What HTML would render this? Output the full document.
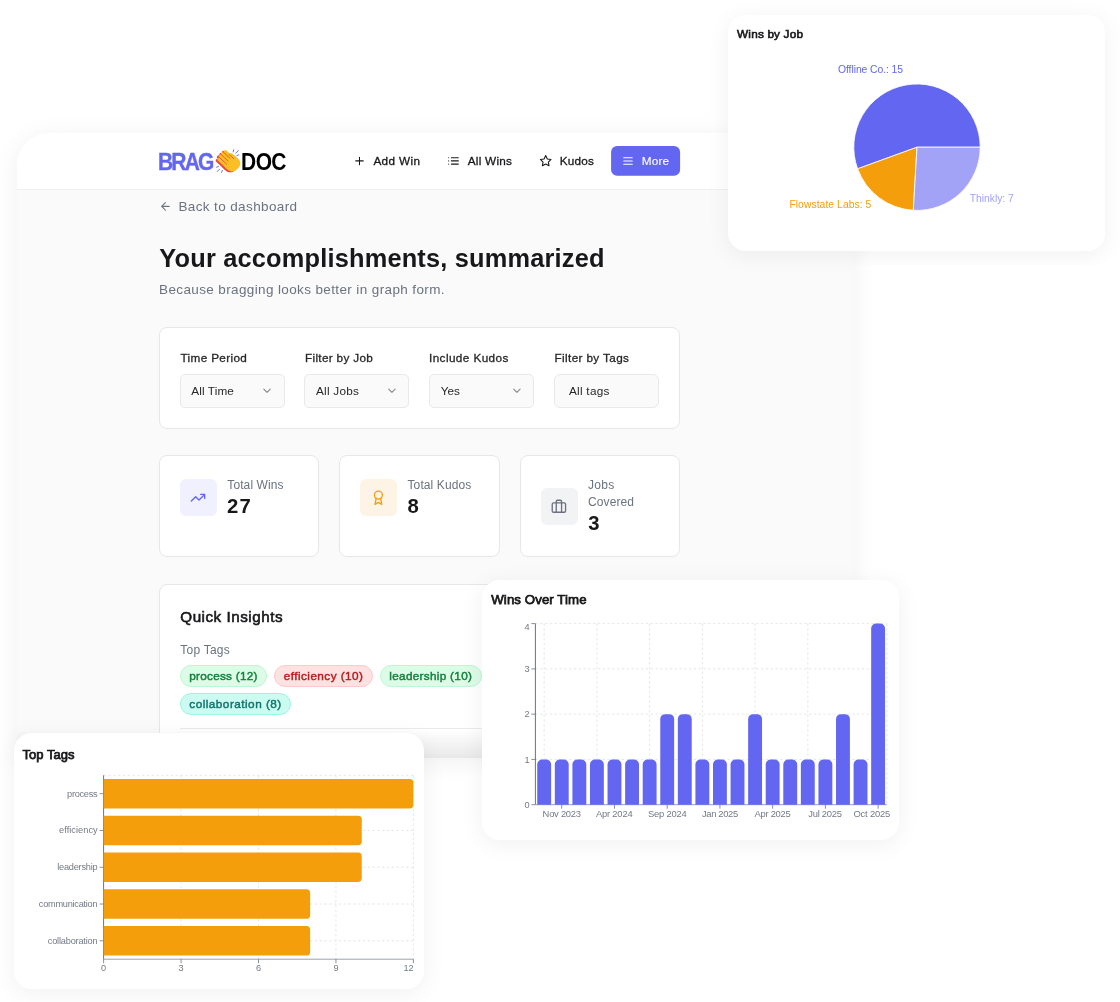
<!DOCTYPE html>
<html lang="en">
<head>
<meta charset="utf-8">
<title>BragDoc – Your accomplishments, summarized</title>
<style>
*{box-sizing:border-box;margin:0;padding:0}
html,body{width:1120px;height:1002px;background:#ffffff;overflow:hidden}
body{position:relative;font-family:"Liberation Sans",sans-serif;-webkit-font-smoothing:antialiased}
.layer{position:absolute;left:0;top:0;width:1120px;height:1002px}
.abs{position:absolute}
.t{position:absolute;white-space:nowrap;font-family:"Liberation Sans",sans-serif}
svg{position:absolute;left:0;top:0;overflow:visible}
.ico{fill:none;stroke-linecap:round;stroke-linejoin:round}
/* main panel */
#panel-shadow{left:17px;top:133px;width:836px;height:625px;border-radius:32px 0 0 0;background:#fafafa;box-shadow:0 4px 24px 2px rgba(0,0,0,.055)}
#panel{left:17px;top:133px;width:836px;height:625px;border-radius:32px 0 0 0;overflow:hidden;background:#fafafa}
#panel-in{position:absolute;left:-17px;top:-133px;width:1120px;height:1002px}
#hdr{left:17px;top:133px;width:836px;height:57px;background:#fff;border-bottom:1px solid #f0f0f2}
.card{position:absolute;background:#fff;border:1px solid #e7e7ea;border-radius:8px}
.sel{position:absolute;height:34px;top:374px;width:105px;background:#fafafa;border:1px solid #e9e9ec;border-radius:5px}
.ib{position:absolute;width:37px;height:37px;border-radius:6px}
.pill{position:absolute;height:21.5px;border-radius:11px;border:1px solid}
.float{position:absolute;background:#fff;border-radius:18px;box-shadow:0 4px 22px 2px rgba(0,0,0,.05)}
</style>
</head>
<body>
<div id="root" style="position:absolute;left:0;top:0;width:1120px;height:1002px;will-change:transform">

<!-- ================= MAIN PANEL ================= -->
<div class="abs" id="panel-shadow"></div>
<div class="abs" id="panel"><div id="panel-in">
  <div class="abs" id="hdr"></div>
  <!-- filter card -->
  <div class="card" style="left:159px;top:326.5px;width:521px;height:102px"></div>
  <div class="sel" style="left:180px"></div>
  <div class="sel" style="left:304px"></div>
  <div class="sel" style="left:429px"></div>
  <div class="sel" style="left:554px;border-radius:6px"></div>
  <!-- stat cards -->
  <div class="card" style="left:159px;top:455px;width:160px;height:102px"></div>
  <div class="card" style="left:339px;top:455px;width:161px;height:102px"></div>
  <div class="card" style="left:520px;top:455px;width:160px;height:102px"></div>
  <div class="ib" style="left:180px;top:479px;background:#f0f0ff"></div>
  <div class="ib" style="left:360px;top:479px;background:#fef4e6"></div>
  <div class="ib" style="left:541px;top:488px;background:#f2f3f5"></div>
  <!-- quick insights card -->
  <div class="card" style="left:159px;top:584px;width:521px;height:260px"></div>
  <div class="pill" style="left:179.7px;top:665px;width:87.4px;background:#dcfce7;border-color:#bbf7d0"></div>
  <div class="pill" style="left:274.2px;top:665px;width:98.4px;background:#fee2e2;border-color:#fecaca"></div>
  <div class="pill" style="left:380px;top:665px;width:101.8px;background:#dcfce7;border-color:#bbf7d0"></div>
  <div class="pill" style="left:179.7px;top:693.3px;width:111.4px;background:#ccfbf1;border-color:#99f6e4"></div>
  <div class="abs" style="left:180px;top:728px;width:480px;height:1px;background:#e9eaed"></div>

  <!-- icons -->
  <svg width="1120" height="1002" viewBox="0 0 1120 1002">
    <g transform="translate(230.7 163.5) rotate(-47.4)">
<g transform="translate(-1.9 -0.7)"><rect x="-6.62" y="-12.8" width="3.44" height="14.80" rx="1.7" fill="#ef4444"/><rect x="-3.32" y="-14.3" width="3.44" height="16.30" rx="1.7" fill="#ef4444"/><rect x="-0.02" y="-14.2" width="3.44" height="16.20" rx="1.7" fill="#ef4444"/><rect x="3.28" y="-13.6" width="3.44" height="15.60" rx="1.7" fill="#ef4444"/><rect x="5.2" y="-7.2" width="3.3" height="11" rx="1.65" fill="#ef4444"/><path d="M-6.62,-3 H8.5 V2.5 C8.5,7 5.3,8.7 1.5,8.7 C-3,8.7 -6.62,6.3 -6.62,2 Z" fill="#ef4444"/></g>
<rect x="-6.62" y="-12.8" width="3.44" height="14.80" rx="1.7" fill="#fbbf24"/><rect x="-3.32" y="-14.3" width="3.44" height="16.30" rx="1.7" fill="#fbbf24"/><rect x="-0.02" y="-14.2" width="3.44" height="16.20" rx="1.7" fill="#fbbf24"/><rect x="3.28" y="-13.6" width="3.44" height="15.60" rx="1.7" fill="#fbbf24"/><rect x="5.2" y="-7.2" width="3.3" height="11" rx="1.65" fill="#fbbf24"/><path d="M-6.62,-3 H8.5 V2.5 C8.5,7 5.3,8.7 1.5,8.7 C-3,8.7 -6.62,6.3 -6.62,2 Z" fill="#fbbf24"/>
<g stroke="#ef4444" stroke-width="0.75" stroke-linecap="round"><path d="M-3.25,-13.2V-2.6M0.05,-14.2V-3.6M3.35,-13.8V-4.6M5.6,-7.3V-0.8"/></g>
</g>
<g stroke="#6366f1" stroke-width="0.95" stroke-linecap="round" fill="none">
<path d="M233.6,149.9L233.2,151.9M238.4,150.6L235.7,153.1M238.7,154.8L236.9,155.6"/>
<path d="M216.5,167.2L218.5,166.4M217.3,171.4L219.5,169.2M221.6,172.4L222.4,170.5"/>
</g>
    <!-- plus -->
    <g class="ico" stroke="#18181b" stroke-width="2" transform="translate(353.10 154.50) scale(0.5333)"><path d="M5 12h14M12 5v14"/></g>
    <!-- list -->
    <g class="ico" stroke="#18181b" stroke-width="2" transform="translate(447.10 154.50) scale(0.5333)"><path d="M8 6h13M8 12h13M8 18h13M3 6h.01M3 12h.01M3 18h.01"/></g>
    <!-- star -->
    <g class="ico" stroke="#18181b" stroke-width="2" transform="translate(539.30 154.50) scale(0.5333)"><path d="M12 2l3.09 6.26L22 9.27l-5 4.87 1.18 6.88L12 17.77l-6.18 3.25L7 14.14 2 9.27l6.91-1.01L12 2z"/></g>
    <!-- more button -->
    <rect x="611.1" y="146.1" width="69" height="29.6" rx="6" fill="#6366f1"/>
    <g class="ico" stroke="#ffffff" stroke-width="2" transform="translate(621.60 154.60) scale(0.5333)"><path d="M4 6h16M4 12h16M4 18h16"/></g>
    <!-- back arrow -->
    <g class="ico" stroke="#6b7280" stroke-width="2" transform="translate(159.00 200.00) scale(0.5333)"><path d="M12 19l-7-7 7-7M19 12H5"/></g>
    <!-- chevrons -->
    <g class="ico" stroke="#84848a" stroke-width="2" transform="translate(260.60 384.30) scale(0.5333)"><path d="m6 9 6 6 6-6"/></g>
    <g class="ico" stroke="#84848a" stroke-width="2" transform="translate(385.50 384.30) scale(0.5333)"><path d="m6 9 6 6 6-6"/></g>
    <g class="ico" stroke="#84848a" stroke-width="2" transform="translate(510.50 384.30) scale(0.5333)"><path d="m6 9 6 6 6-6"/></g>
    <!-- trending up -->
    <g class="ico" stroke="#6366f1" stroke-width="2" transform="translate(190.00 489.75) scale(0.6667)"><path d="M22 7l-8.5 8.5-5-5L2 17M16 7h6v6"/></g>
    <!-- award -->
    <g class="ico" stroke="#f59e0b" stroke-width="2" transform="translate(370.40 489.75) scale(0.6667)"><circle cx="12" cy="8" r="6"/><path d="M15.477 12.89 17 22l-5-3-5 3 1.523-9.11"/></g>
    <!-- briefcase -->
    <g class="ico" stroke="#6b7280" stroke-width="2" transform="translate(550.90 498.25) scale(0.6667)"><rect x="2" y="7" width="20" height="14" rx="2"/><path d="M16 21V5a2 2 0 0 0-2-2h-4a2 2 0 0 0-2 2v16"/></g>
  </svg>
<span id="t0" class="t" style="left:158.40px;top:148.00px;font-size:22.30px;line-height:29px;font-weight:700;color:#6366f1;letter-spacing:-1.953px;-webkit-text-stroke:0.35px #6366f1;transform:scale(0.94,1.06);transform-origin:1.00px 22.00px">BRAG</span>
<span id="t1" class="t" style="left:240.60px;top:148.00px;font-size:22.30px;line-height:29px;font-weight:700;color:#000000;letter-spacing:-0.606px;transform:scale(0.94,1.06);transform-origin:1.00px 22.00px">DOC</span>
<span id="t2" class="t" style="left:373.40px;top:153.00px;font-size:11.75px;line-height:15px;font-weight:500;color:#18181b;letter-spacing:0.388px;-webkit-text-stroke:.3px #18181b">Add Win</span>
<span id="t3" class="t" style="left:467.80px;top:153.00px;font-size:11.75px;line-height:15px;font-weight:500;color:#18181b;letter-spacing:0.235px;-webkit-text-stroke:.3px #18181b">All Wins</span>
<span id="t4" class="t" style="left:559.70px;top:153.00px;font-size:11.75px;line-height:15px;font-weight:500;color:#18181b;letter-spacing:0.240px;-webkit-text-stroke:.3px #18181b">Kudos</span>
<span id="t5" class="t" style="left:641.70px;top:153.00px;font-size:11.75px;line-height:15px;font-weight:500;color:#ffffff;letter-spacing:0.188px;-webkit-text-stroke:0.12px #ffffff">More</span>
<span id="t6" class="t" style="left:178.40px;top:198.00px;font-size:13.50px;line-height:18px;font-weight:400;color:#6b7280;letter-spacing:0.383px">Back to dashboard</span>
<span id="t7" class="t" style="left:159.30px;top:242.00px;font-size:25.36px;line-height:33px;font-weight:700;color:#18181b;letter-spacing:0.193px">Your accomplishments, summarized</span>
<span id="t8" class="t" style="left:159.00px;top:281.00px;font-size:13.50px;line-height:18px;font-weight:400;color:#6b7280;letter-spacing:0.375px">Because bragging looks better in graph form.</span>
<span id="t9" class="t" style="left:180.50px;top:350.00px;font-size:11.75px;line-height:15px;font-weight:500;color:#27272a;letter-spacing:0.343px;-webkit-text-stroke:.3px #27272a">Time Period</span>
<span id="t10" class="t" style="left:305.00px;top:350.00px;font-size:11.75px;line-height:15px;font-weight:500;color:#27272a;letter-spacing:0.320px;-webkit-text-stroke:.3px #27272a">Filter by Job</span>
<span id="t11" class="t" style="left:429.00px;top:350.00px;font-size:11.75px;line-height:15px;font-weight:500;color:#27272a;letter-spacing:0.409px;-webkit-text-stroke:.3px #27272a">Include Kudos</span>
<span id="t12" class="t" style="left:554.50px;top:350.00px;font-size:11.75px;line-height:15px;font-weight:500;color:#27272a;letter-spacing:0.370px;-webkit-text-stroke:.3px #27272a">Filter by Tags</span>
<span id="t13" class="t" style="left:191.30px;top:383.00px;font-size:11.75px;line-height:15px;font-weight:400;color:#27272a;letter-spacing:0.105px">All Time</span>
<span id="t14" class="t" style="left:316.00px;top:383.00px;font-size:11.75px;line-height:15px;font-weight:400;color:#27272a;letter-spacing:0.248px">All Jobs</span>
<span id="t15" class="t" style="left:440.80px;top:383.00px;font-size:11.75px;line-height:15px;font-weight:400;color:#27272a;letter-spacing:-0.047px">Yes</span>
<span id="t16" class="t" style="left:569.00px;top:383.00px;font-size:11.75px;line-height:15px;font-weight:400;color:#27272a;letter-spacing:0.263px">All tags</span>
<span id="t17" class="t" style="left:227.30px;top:477.00px;font-size:12.00px;line-height:16px;font-weight:400;color:#6b7280;letter-spacing:0.106px">Total Wins</span>
<span id="t18" class="t" style="left:227.00px;top:493.00px;font-size:20.29px;line-height:26px;font-weight:700;color:#18181b;letter-spacing:1.229px">27</span>
<span id="t19" class="t" style="left:407.50px;top:477.00px;font-size:12.00px;line-height:16px;font-weight:400;color:#6b7280;letter-spacing:0.109px">Total Kudos</span>
<span id="t20" class="t" style="left:407.50px;top:493.00px;font-size:20.29px;line-height:26px;font-weight:700;color:#18181b;letter-spacing:0.000px">8</span>
<span id="t21" class="t" style="left:588.00px;top:477.00px;font-size:12.00px;line-height:16px;font-weight:400;color:#6b7280;letter-spacing:0.317px">Jobs</span>
<span id="t22" class="t" style="left:588.00px;top:494.00px;font-size:12.00px;line-height:16px;font-weight:400;color:#6b7280;letter-spacing:0.103px">Covered</span>
<span id="t23" class="t" style="left:588.30px;top:510.00px;font-size:20.29px;line-height:26px;font-weight:700;color:#18181b;letter-spacing:0.000px">3</span>
<span id="t24" class="t" style="left:180.30px;top:607.00px;font-size:15.22px;line-height:20px;font-weight:500;color:#18181b;letter-spacing:0.509px;-webkit-text-stroke:0.6px #18181b">Quick Insights</span>
<span id="t25" class="t" style="left:180.30px;top:642.00px;font-size:12.00px;line-height:16px;font-weight:400;color:#6b7280;letter-spacing:0.239px">Top Tags</span>
<span id="t26" class="t" style="left:189.30px;top:668.00px;font-size:11.75px;line-height:15px;font-weight:500;color:#15803d;letter-spacing:0.256px;-webkit-text-stroke:0.45px #15803d">process (12)</span>
<span id="t27" class="t" style="left:283.80px;top:668.00px;font-size:11.75px;line-height:15px;font-weight:500;color:#b91c1c;letter-spacing:0.442px;-webkit-text-stroke:0.45px #b91c1c">efficiency (10)</span>
<span id="t28" class="t" style="left:389.30px;top:668.00px;font-size:11.75px;line-height:15px;font-weight:500;color:#15803d;letter-spacing:0.303px;-webkit-text-stroke:0.45px #15803d">leadership (10)</span>
<span id="t29" class="t" style="left:189.30px;top:696.00px;font-size:11.75px;line-height:15px;font-weight:500;color:#0f766e;letter-spacing:0.479px;-webkit-text-stroke:0.45px #0f766e">collaboration (8)</span>
  <!-- bottom fade -->
  <div class="abs" style="left:17px;top:730px;width:836px;height:28px;background:linear-gradient(to bottom,rgba(0,0,0,0),rgba(0,0,0,.09))"></div>
</div></div>

<!-- ================= PIE CARD ================= -->
<div class="layer" style="clip-path:polygon(0 0,1120px 0,1120px 265px,853px 265px,853px 1002px,0 1002px)"><div class="float" style="left:728px;top:15px;width:377px;height:236px"></div></div>
<svg width="1120" height="1002" viewBox="0 0 1120 1002">
<path d="M917.0,147.2 L980.20,147.20 A63.2,63.2 0 1 0 857.61,168.82 Z" fill="#6366f1" stroke="#ffffff" stroke-width="0.8" stroke-linejoin="round"/>
<path d="M917.0,147.2 L857.61,168.82 A63.2,63.2 0 0 0 913.33,210.29 Z" fill="#f59e0b" stroke="#ffffff" stroke-width="0.8" stroke-linejoin="round"/>
<path d="M917.0,147.2 L913.33,210.29 A63.2,63.2 0 0 0 980.20,147.20 Z" fill="#a2a2f7" stroke="#ffffff" stroke-width="0.8" stroke-linejoin="round"/>
</svg>
<span id="t30" class="t" style="left:737.10px;top:26.00px;font-size:11.75px;line-height:15px;font-weight:500;color:#18181b;letter-spacing:0.184px;-webkit-text-stroke:0.65px #18181b">Wins by Job</span>
<span id="t31" class="t" style="left:838.00px;top:63.00px;font-size:10.36px;line-height:13px;font-weight:400;color:#6366f1;letter-spacing:-0.070px">Offline Co.: 15</span>
<span id="t32" class="t" style="left:789.40px;top:198.00px;font-size:10.36px;line-height:13px;font-weight:400;color:#f59e0b;letter-spacing:0.049px">Flowstate Labs: 5</span>
<span id="t33" class="t" style="left:969.70px;top:192.00px;font-size:10.36px;line-height:13px;font-weight:400;color:#a2a2f7;letter-spacing:-0.023px">Thinkly: 7</span>

<!-- ================= BAR CARD ================= -->
<div class="float" style="left:481.5px;top:579.5px;width:417.5px;height:260.5px"></div>
<svg width="1120" height="1002" viewBox="0 0 1120 1002">
<g stroke="#dfe1e6" stroke-width="0.8" stroke-dasharray="2.4 2.4" fill="none">
<path d="M535.4,759.43H886.9"/>
<path d="M535.4,714.15H886.9"/>
<path d="M535.4,668.88H886.9"/>
<path d="M535.4,623.60H886.9"/>
<path d="M544.19,623.6V804.7"/>
<path d="M596.91,623.6V804.7"/>
<path d="M649.64,623.6V804.7"/>
<path d="M702.36,623.6V804.7"/>
<path d="M755.09,623.6V804.7"/>
<path d="M807.81,623.6V804.7"/>
<path d="M886.9,623.6V804.7"/>
</g>
<g stroke="#6b7280" stroke-width="1" fill="none">
<path d="M535.4,623.6V804.7"/>
<path d="M535.4,804.7H886.9" stroke="#9ca0aa"/>
<path d="M531.4,804.70H535.4" stroke-width=".8"/>
<path d="M531.4,759.43H535.4" stroke-width=".8"/>
<path d="M531.4,714.15H535.4" stroke-width=".8"/>
<path d="M531.4,668.88H535.4" stroke-width=".8"/>
<path d="M531.4,623.60H535.4" stroke-width=".8"/>
<path d="M561.76,804.7V808.7" stroke-width=".8"/>
<path d="M614.49,804.7V808.7" stroke-width=".8"/>
<path d="M667.21,804.7V808.7" stroke-width=".8"/>
<path d="M719.94,804.7V808.7" stroke-width=".8"/>
<path d="M772.66,804.7V808.7" stroke-width=".8"/>
<path d="M825.39,804.7V808.7" stroke-width=".8"/>
<path d="M878.11,804.7V808.7" stroke-width=".8"/>
</g>
<path d="M537.25,804.7 V764.43 a5,5 0 0 1 5,-5 h3.88 a5,5 0 0 1 5,5 V804.7 Z" fill="#6366f1"/>
<path d="M554.82,804.7 V764.43 a5,5 0 0 1 5,-5 h3.88 a5,5 0 0 1 5,5 V804.7 Z" fill="#6366f1"/>
<path d="M572.40,804.7 V764.43 a5,5 0 0 1 5,-5 h3.88 a5,5 0 0 1 5,5 V804.7 Z" fill="#6366f1"/>
<path d="M589.97,804.7 V764.43 a5,5 0 0 1 5,-5 h3.88 a5,5 0 0 1 5,5 V804.7 Z" fill="#6366f1"/>
<path d="M607.55,804.7 V764.43 a5,5 0 0 1 5,-5 h3.88 a5,5 0 0 1 5,5 V804.7 Z" fill="#6366f1"/>
<path d="M625.12,804.7 V764.43 a5,5 0 0 1 5,-5 h3.88 a5,5 0 0 1 5,5 V804.7 Z" fill="#6366f1"/>
<path d="M642.70,804.7 V764.43 a5,5 0 0 1 5,-5 h3.88 a5,5 0 0 1 5,5 V804.7 Z" fill="#6366f1"/>
<path d="M660.27,804.7 V719.15 a5,5 0 0 1 5,-5 h3.88 a5,5 0 0 1 5,5 V804.7 Z" fill="#6366f1"/>
<path d="M677.85,804.7 V719.15 a5,5 0 0 1 5,-5 h3.88 a5,5 0 0 1 5,5 V804.7 Z" fill="#6366f1"/>
<path d="M695.42,804.7 V764.43 a5,5 0 0 1 5,-5 h3.88 a5,5 0 0 1 5,5 V804.7 Z" fill="#6366f1"/>
<path d="M713.00,804.7 V764.43 a5,5 0 0 1 5,-5 h3.88 a5,5 0 0 1 5,5 V804.7 Z" fill="#6366f1"/>
<path d="M730.57,804.7 V764.43 a5,5 0 0 1 5,-5 h3.88 a5,5 0 0 1 5,5 V804.7 Z" fill="#6366f1"/>
<path d="M748.15,804.7 V719.15 a5,5 0 0 1 5,-5 h3.88 a5,5 0 0 1 5,5 V804.7 Z" fill="#6366f1"/>
<path d="M765.72,804.7 V764.43 a5,5 0 0 1 5,-5 h3.88 a5,5 0 0 1 5,5 V804.7 Z" fill="#6366f1"/>
<path d="M783.30,804.7 V764.43 a5,5 0 0 1 5,-5 h3.88 a5,5 0 0 1 5,5 V804.7 Z" fill="#6366f1"/>
<path d="M800.87,804.7 V764.43 a5,5 0 0 1 5,-5 h3.88 a5,5 0 0 1 5,5 V804.7 Z" fill="#6366f1"/>
<path d="M818.45,804.7 V764.43 a5,5 0 0 1 5,-5 h3.88 a5,5 0 0 1 5,5 V804.7 Z" fill="#6366f1"/>
<path d="M836.02,804.7 V719.15 a5,5 0 0 1 5,-5 h3.88 a5,5 0 0 1 5,5 V804.7 Z" fill="#6366f1"/>
<path d="M853.60,804.7 V764.43 a5,5 0 0 1 5,-5 h3.88 a5,5 0 0 1 5,5 V804.7 Z" fill="#6366f1"/>
<path d="M871.17,804.7 V628.60 a5,5 0 0 1 5,-5 h3.88 a5,5 0 0 1 5,5 V804.7 Z" fill="#6366f1"/>
<text x="529.5" y="807.80" text-anchor="end" font-size="9.2" fill="#737986" font-family="Liberation Sans, sans-serif">0</text>
<text x="529.5" y="762.53" text-anchor="end" font-size="9.2" fill="#737986" font-family="Liberation Sans, sans-serif">1</text>
<text x="529.5" y="717.25" text-anchor="end" font-size="9.2" fill="#737986" font-family="Liberation Sans, sans-serif">2</text>
<text x="529.5" y="671.98" text-anchor="end" font-size="9.2" fill="#737986" font-family="Liberation Sans, sans-serif">3</text>
<text x="529.5" y="630.00" text-anchor="end" font-size="9.2" fill="#737986" font-family="Liberation Sans, sans-serif">4</text>
<text x="542.6" y="816.8" font-size="9.4" textLength="38.4" lengthAdjust="spacing" fill="#737986" font-family="Liberation Sans, sans-serif">Nov 2023</text>
<text x="596.0" y="816.8" font-size="9.4" textLength="36.6" lengthAdjust="spacing" fill="#737986" font-family="Liberation Sans, sans-serif">Apr 2024</text>
<text x="648.0" y="816.8" font-size="9.4" textLength="38.6" lengthAdjust="spacing" fill="#737986" font-family="Liberation Sans, sans-serif">Sep 2024</text>
<text x="702.0" y="816.8" font-size="9.4" textLength="36.2" lengthAdjust="spacing" fill="#737986" font-family="Liberation Sans, sans-serif">Jan 2025</text>
<text x="754.5" y="816.8" font-size="9.4" textLength="36.2" lengthAdjust="spacing" fill="#737986" font-family="Liberation Sans, sans-serif">Apr 2025</text>
<text x="808.3" y="816.8" font-size="9.4" textLength="33.6" lengthAdjust="spacing" fill="#737986" font-family="Liberation Sans, sans-serif">Jul 2025</text>
<text x="853.5" y="816.8" font-size="9.4" textLength="36.7" lengthAdjust="spacing" fill="#737986" font-family="Liberation Sans, sans-serif">Oct 2025</text>
</svg>
<span id="t34" class="t" style="left:491.30px;top:591.00px;font-size:13.21px;line-height:17px;font-weight:500;color:#18181b;letter-spacing:0.101px;-webkit-text-stroke:0.75px #18181b">Wins Over Time</span>

<!-- ================= TAGS CARD ================= -->
<div class="float" style="left:14px;top:733px;width:410px;height:256px"></div>
<svg width="1120" height="1002" viewBox="0 0 1120 1002">
<g stroke="#dfe1e6" stroke-width="0.8" stroke-dasharray="2.4 2.4" fill="none">
<path d="M103.6,775.3H413.4"/>
<path d="M103.6,793.69H413.4"/>
<path d="M103.6,830.47H413.4"/>
<path d="M103.6,867.25H413.4"/>
<path d="M103.6,904.03H413.4"/>
<path d="M103.6,940.81H413.4"/>
<path d="M181.05,775.3V959.2"/>
<path d="M258.50,775.3V959.2"/>
<path d="M335.95,775.3V959.2"/>
<path d="M413.40,775.3V959.2"/>
</g>
<g stroke="#6b7280" stroke-width="1" fill="none">
<path d="M103.6,775.3V959.2"/>
<path d="M103.6,959.2H413.4" stroke="#9ca0aa"/>
<path d="M99.6,793.69H103.6" stroke-width=".8"/>
<path d="M99.6,830.47H103.6" stroke-width=".8"/>
<path d="M99.6,867.25H103.6" stroke-width=".8"/>
<path d="M99.6,904.03H103.6" stroke-width=".8"/>
<path d="M99.6,940.81H103.6" stroke-width=".8"/>
<path d="M103.60,959.2V963.2" stroke-width=".8"/>
<path d="M181.05,959.2V963.2" stroke-width=".8"/>
<path d="M258.50,959.2V963.2" stroke-width=".8"/>
<path d="M335.95,959.2V963.2" stroke-width=".8"/>
<path d="M413.40,959.2V963.2" stroke-width=".8"/>
</g>
<path d="M103.6,778.98 h306.20 a3.6,3.6 0 0 1 3.6,3.6 v22.22 a3.6,3.6 0 0 1 -3.6,3.6 H103.6 Z" fill="#f59e0b"/>
<path d="M103.6,815.76 h254.57 a3.6,3.6 0 0 1 3.6,3.6 v22.22 a3.6,3.6 0 0 1 -3.6,3.6 H103.6 Z" fill="#f59e0b"/>
<path d="M103.6,852.54 h254.57 a3.6,3.6 0 0 1 3.6,3.6 v22.22 a3.6,3.6 0 0 1 -3.6,3.6 H103.6 Z" fill="#f59e0b"/>
<path d="M103.6,889.32 h202.93 a3.6,3.6 0 0 1 3.6,3.6 v22.22 a3.6,3.6 0 0 1 -3.6,3.6 H103.6 Z" fill="#f59e0b"/>
<path d="M103.6,926.10 h202.93 a3.6,3.6 0 0 1 3.6,3.6 v22.22 a3.6,3.6 0 0 1 -3.6,3.6 H103.6 Z" fill="#f59e0b"/>
<text x="67.1" y="796.69" font-size="9.2" textLength="30.5" lengthAdjust="spacing" fill="#737986" font-family="Liberation Sans, sans-serif">process</text>
<text x="59.1" y="833.47" font-size="9.2" textLength="38.5" lengthAdjust="spacing" fill="#737986" font-family="Liberation Sans, sans-serif">efficiency</text>
<text x="57.3" y="870.25" font-size="9.2" textLength="40.3" lengthAdjust="spacing" fill="#737986" font-family="Liberation Sans, sans-serif">leadership</text>
<text x="38.8" y="907.03" font-size="9.2" textLength="58.8" lengthAdjust="spacing" fill="#737986" font-family="Liberation Sans, sans-serif">communication</text>
<text x="47.8" y="943.81" font-size="9.2" textLength="49.8" lengthAdjust="spacing" fill="#737986" font-family="Liberation Sans, sans-serif">collaboration</text>
<text x="103.60" y="970.6" text-anchor="middle" font-size="9.2" fill="#737986" font-family="Liberation Sans, sans-serif">0</text>
<text x="181.05" y="970.6" text-anchor="middle" font-size="9.2" fill="#737986" font-family="Liberation Sans, sans-serif">3</text>
<text x="258.50" y="970.6" text-anchor="middle" font-size="9.2" fill="#737986" font-family="Liberation Sans, sans-serif">6</text>
<text x="335.95" y="970.6" text-anchor="middle" font-size="9.2" fill="#737986" font-family="Liberation Sans, sans-serif">9</text>
<text x="413.7" y="970.6" text-anchor="end" font-size="9.2" fill="#737986" font-family="Liberation Sans, sans-serif">12</text>
</svg>
<span id="t35" class="t" style="left:22.40px;top:746.00px;font-size:13.00px;line-height:17px;font-weight:500;color:#18181b;letter-spacing:0.046px;-webkit-text-stroke:0.75px #18181b">Top Tags</span>

</div>
</body>
</html>
